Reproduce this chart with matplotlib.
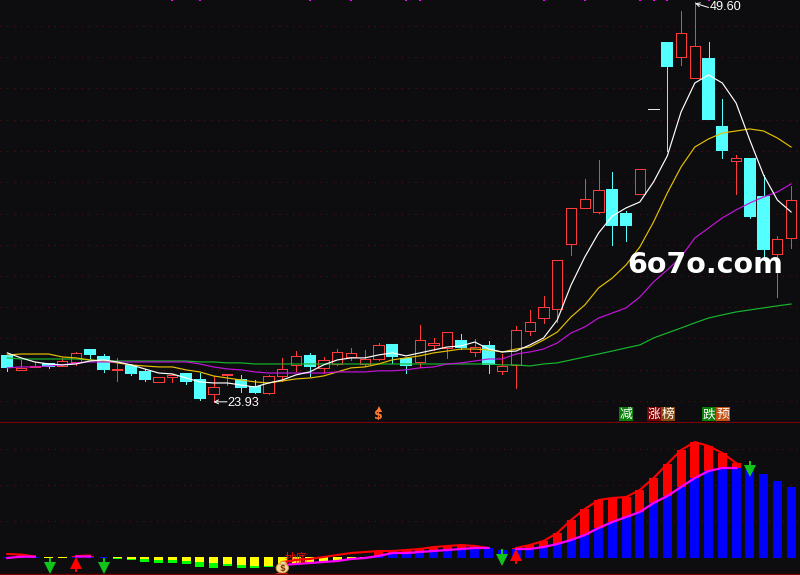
import numpy as np
import matplotlib
matplotlib.use("Agg")
import matplotlib.pyplot as plt
from matplotlib.patches import Ellipse, Rectangle

nan = np.nan
BG = "#0d0d10"
CJK = ["Noto Sans CJK SC", "DejaVu Sans"]

# ---- price candles -------------------------------------------------------
highs = [26.88,26.62,26.49,26.36,26.75,27.13,27.26,27.00,26.75,26.36,26.04,25.53,25.72,25.72,25.78,25.59,25.72,25.66,25.33,25.66,
         26.75,27.19,27.07,26.81,27.32,27.39,27.26,27.71,27.58,26.68,28.87,28.03,28.41,28.29,27.96,27.84,27.00,28.80,29.83,30.73,
         33.04,36.38,38.24,39.46,38.69,36.18,38.88,42.73,46.97,49.02,49.60,47.03,43.37,39.78,39.52,38.48,34.58,37.79]
lows = [25.92,25.98,26.17,26.11,26.23,26.30,26.75,25.85,25.27,25.66,25.27,25.21,25.21,25.08,24.05,23.93,25.01,24.56,24.50,24.43,
        25.27,25.92,25.59,25.78,26.30,26.62,26.23,26.62,26.43,25.78,26.17,27.26,26.75,27.32,26.88,25.78,25.72,24.82,28.22,28.99,
        29.06,33.36,36.38,36.05,34.00,34.26,37.28,42.73,40.04,45.56,44.72,42.09,39.59,37.28,35.73,33.04,30.66,33.81]
opens = [26.88,25.98,26.17,26.36,26.23,26.49,27.26,26.81,25.98,26.23,25.85,25.21,25.53,25.72,25.33,24.43,25.66,25.33,24.88,24.50,
         25.59,26.30,26.88,26.11,26.36,26.81,26.36,26.68,27.58,26.68,26.49,27.58,27.39,27.84,27.13,27.52,25.92,26.30,28.48,29.31,
         29.89,34.07,36.38,36.12,37.53,35.99,37.28,42.73,46.97,46.07,44.72,45.94,41.58,39.40,39.52,37.08,33.42,34.45]
closes = [26.17,26.11,26.23,26.23,26.55,27.07,27.00,26.04,26.04,25.78,25.40,25.53,25.66,25.27,24.18,24.88,25.72,24.88,24.56,25.59,
          26.04,26.88,26.23,26.62,27.13,27.07,26.68,27.58,26.88,26.30,27.90,27.71,28.41,27.45,27.45,26.36,26.23,28.54,29.06,30.02,
          33.04,36.38,36.95,37.53,35.29,35.29,38.88,42.73,45.49,47.61,46.78,42.09,40.10,39.59,35.86,33.74,34.39,36.89]

# ---- moving averages -----------------------------------------------------
ma_white = [27.07,26.75,26.49,26.36,26.30,26.36,26.55,26.62,26.49,26.30,26.04,25.78,25.72,25.46,25.21,25.14,25.14,25.01,24.88,25.14,
            25.33,25.66,25.85,26.30,26.62,26.75,26.75,26.94,27.07,26.88,27.07,27.26,27.45,27.52,27.77,27.32,27.13,27.19,27.58,28.03,
            29.19,31.43,33.23,34.77,35.86,36.38,36.76,38.05,39.72,42.54,44.40,44.92,44.40,43.12,40.74,38.49,36.89,36.12]
ma_yellow = [26.94,27.00,27.00,27.00,26.81,26.75,26.62,26.55,26.43,26.30,26.23,26.17,26.17,25.98,25.85,25.59,25.46,25.33,25.21,25.14,
             25.27,25.40,25.46,25.59,25.85,26.11,26.17,26.36,26.62,26.75,26.88,27.07,27.19,27.32,27.32,27.26,27.13,27.32,27.45,27.90,
             28.41,29.38,30.15,31.24,31.88,32.72,33.87,35.48,37.34,39.01,40.29,40.81,41.19,41.32,41.45,41.32,40.87,40.29]
ma_magenta = [26.11,26.17,26.17,26.23,26.30,26.43,26.49,26.49,26.49,26.49,26.49,26.49,26.49,26.49,26.36,26.17,26.04,25.98,25.85,25.78,
              25.78,25.78,25.78,25.78,25.85,25.85,25.85,25.92,25.92,25.98,26.11,26.17,26.36,26.43,26.55,26.68,26.68,27.00,27.13,27.32,
              27.71,28.35,28.74,29.31,29.63,29.96,30.66,31.63,32.40,33.23,34.45,35.09,35.74,36.25,36.70,37.08,37.40,37.92]
ma_green = [26.75,26.68,26.68,26.68,26.68,26.68,26.62,26.55,26.55,26.55,26.55,26.55,26.55,26.55,26.49,26.49,26.43,26.43,26.36,26.36,
            26.36,26.36,26.36,26.36,26.36,26.36,26.36,26.36,26.36,26.36,26.36,26.36,26.36,26.36,26.36,26.36,26.30,26.30,26.23,26.36,
            26.43,26.62,26.81,27.00,27.19,27.39,27.58,28.03,28.35,28.67,29.00,29.31,29.51,29.70,29.83,29.96,30.09,30.21]

price_gridlines = [48.06,46.07,44.08,42.03,40.04,38.05,35.99,34.00,32.01,30.02,28.03,25.98,23.99]
signal_candles = [12,14,22,25,29,30,39,42,46,47,48,51]
low_label, high_label = "23.93", "49.60"
low_idx, high_idx = 15, 50

# ---- lower indicator -----------------------------------------------------
bar_blue = [0.1,0.1,0.1,0,0,0.1,0.1,0.1,0,0,0,0,0,0,0,0,0,0,0,0,
            0,0,0,0,0,0,0,0.2,0.5,0.5,0.6,0.7,0.8,0.9,1.0,1.0,0.8,0.9,0.9,1.1,
            1.4,1.8,2.3,3.0,3.6,4.1,4.6,5.5,6.2,7.1,8.0,8.7,9.0,9.0,8.8,8.4,7.7,7.1]
line_magenta = [0.0,0.13,0.13,nan,nan,0.15,0.15,nan,nan,nan,nan,nan,nan,nan,nan,nan,nan,nan,nan,nan,
                -0.7,-0.6,-0.5,-0.4,-0.3,-0.1,0.0,0.2,0.5,0.5,0.6,0.7,0.8,0.9,1.0,1.0,nan,0.9,0.9,1.1,
                1.4,1.8,2.3,3.0,3.6,4.1,4.6,5.5,6.2,7.1,8.0,8.7,9.0,9.0,nan,nan,nan,nan]
line_red = [0.4,0.35,0.15,nan,nan,0.2,0.25,nan,nan,nan,nan,nan,nan,nan,nan,nan,nan,nan,nan,nan,
            -0.4,-0.2,-0.1,0.1,0.3,0.5,0.6,0.7,0.7,0.8,0.9,1.1,1.2,1.3,1.2,1.0,nan,1.0,1.3,1.7,
            2.5,3.8,4.9,5.8,6.0,6.1,6.8,8.0,9.4,10.8,11.6,11.2,10.5,9.5,nan,nan,nan,nan]
yellow_end = [nan,nan,nan,0,0,nan,nan,nan,0,-0.1,-0.1,-0.2,-0.2,-0.3,-0.4,-0.5,-0.6,-0.7,-0.8,-0.8,
              -0.8,-0.6,-0.5,-0.4,-0.3,-0.1,0.0] + [nan]*31
green_end = [nan]*8 + [-0.1,-0.2,-0.4,-0.5,-0.5,-0.6,-0.9,-1.0,-0.8,-1.0,-1.0,-0.9] + [nan]*38
yellow_top = 0.1
lower_gridlines = [10.9,7.3,3.7]
down_arrows = [(3.1,-0.1,-1.3),(7,-0.1,-1.3),(36,0.8,-0.5),(54,9.6,8.4)]
up_arrows = [(5,-1.3,-0.1),(37,-0.5,0.7)]
tags = [("减",45,"#0a7d0a"),("涨",47,"#7d0000"),("榜",48,"#86480f"),("跌",51,"#0a7d0a"),("预",52,"#c24e12")]

# ---- figure --------------------------------------------------------------
n = len(opens)
x = np.arange(n)
fig = plt.figure(figsize=(8, 5.75), dpi=100, facecolor=BG)
ax = fig.add_axes([0, 1-423/575, 1, 423/575], facecolor=BG)
lx = fig.add_axes([0, 0, 1, 152/575], facecolor=BG)
xlim = (-0.531, 57.65)
for a in (ax, lx):
    a.set_xlim(*xlim)
    a.set_xticks([]); a.set_yticks([])
    for s in a.spines.values():
        s.set_visible(False)
ax.set_ylim(22.57, 49.73)
lx.set_ylim(-1.7, 13.5)

for g in price_gridlines:
    ax.axhline(g, color="#6a0e0e", lw=0.7, ls=(0, (1, 6)), zorder=1)
for g in lower_gridlines:
    lx.axhline(g, color="#6a0e0e", lw=0.7, ls=(0, (1, 6)), zorder=1)

# candles
RED, CYAN = "#ff3c3c", "#54ffff"
W = 0.75
LW = 0.62
for i in range(n):
    o, c, h, l = opens[i], closes[i], highs[i], lows[i]
    top, bot = max(o, c), min(o, c)
    if o == c:
        ax.plot([i-0.38, i+0.38], [o, o], color="#e8e8e8", lw=LW, aa=False, zorder=3)
        continue
    col = RED if c > o else CYAN
    ax.vlines(i, top, h, color=col, lw=LW, zorder=2, antialiased=False)
    ax.vlines(i, l, bot, color=col, lw=LW, zorder=2, antialiased=False)
    if c > o:
        ax.add_patch(Rectangle((i-W/2, bot), W, top-bot, fc=BG, ec=col, lw=LW, zorder=3, antialiased=False))
    else:
        ax.add_patch(Rectangle((i-W/2, bot), W, top-bot, fc=col, ec=col, lw=0.3, zorder=3, antialiased=False))

# MAs
MLW = 0.85
ax.plot(x, ma_green, color="#16b82c", lw=MLW, zorder=4)
ax.plot(x, ma_yellow, color="#e6c000", lw=MLW, zorder=5)
ax.plot(x, ma_magenta, color="#c414dc", lw=MLW, zorder=6)
ax.plot(x, ma_white, color="#ffffff", lw=MLW, zorder=7)

# top signal ticks
ax.plot(signal_candles, [ax.get_ylim()[1]]*len(signal_candles), ls="", marker="s", ms=2.1,
        color="#ff00ff", mew=0, zorder=8, clip_on=True)

# high/low labels
ax.annotate("", xy=(low_idx, float(low_label)), xytext=(low_idx+0.98, float(low_label)),
            arrowprops=dict(arrowstyle="->", color="white", lw=0.7, mutation_scale=7, shrinkA=0, shrinkB=0), zorder=9)
ax.text(low_idx+1.03, float(low_label)-0.1, low_label, color="white", family="Liberation Sans",
        fontsize=9.2, va="center", ha="left", zorder=9)
ax.annotate("", xy=(high_idx+0.02, float(high_label)-0.08), xytext=(high_idx+1.0, float(high_label)-0.35),
            arrowprops=dict(arrowstyle="->", color="white", lw=0.7, mutation_scale=7, shrinkA=0, shrinkB=0), zorder=9)
ax.text(high_idx+1.08, float(high_label)-0.33, high_label, color="white", family="Liberation Sans",
        fontsize=9.2, va="center", ha="left", zorder=9)

# watermark
ax.text(0.9785, 0.3725, "6o7o.com", transform=ax.transAxes, color="white", family="DejaVu Sans",
        fontweight="bold", fontsize=20.5, ha="right", va="center", zorder=12)

# tags
tr = ax.get_xaxis_transform()
for txt, i, c in tags:
    ax.text(i+0.02, 0.0205, txt, transform=tr, color="white", family=CJK, fontsize=9.2, ha="center", va="center",
            bbox=dict(boxstyle="square,pad=0.05", fc=c, ec=c, lw=0), zorder=10)
ax.text(27, 0.018, "$", transform=tr, color="#ff7a30", fontsize=9, fontweight="bold", ha="center", va="center", zorder=10)
ax.plot([27], [0.034], transform=tr, marker="^", ms=4, color="#ff7a30", mew=0, zorder=10)

# separators
ax.axhline(22.57, color="#7a0000", lw=1.6, zorder=10)
lx.axhline(-1.6, color="#7a0000", lw=1.0, zorder=10)

# lower bars
BW = 0.66
blue = np.array(bar_blue); mag = np.array(line_magenta); red = np.array(line_red)
ye = np.array(yellow_end); ge = np.array(green_end)
mask = blue > 0
lx.bar(x[mask], blue[mask], width=BW, color="#0000ff", zorder=2, antialiased=False)
ymask = ~np.isnan(ye)
lx.bar(x[ymask], ye[ymask]-yellow_top, bottom=yellow_top, width=BW, color="#ffff00", zorder=2, antialiased=False)
gmask = ~np.isnan(ge)
lx.bar(x[gmask], ge[gmask]-ye[gmask], bottom=ye[gmask], width=BW, color="#00ff00", zorder=2, antialiased=False)
rmask = (~np.isnan(mag)) & (~np.isnan(red)) & (mag > 0)
lx.bar(x[rmask], (red-mag)[rmask], bottom=mag[rmask], width=BW, color="#ff0000", zorder=3, antialiased=False)
lx.plot(x, red, color="#ff0000", lw=1.5, zorder=4)
lx.plot(x, mag, color="#ff00ff", lw=1.6, zorder=5)

# arrows
for i, a, b in down_arrows:
    lx.plot([i, i], [a, b+0.4], color="#10c41c", lw=1.4, zorder=8, aa=False)
    lx.plot([i], [b+0.35], marker="v", ms=8.5, color="#10c41c", mew=0, zorder=8)
for i, a, b in up_arrows:
    lx.plot([i, i], [a, b-0.4], color="#ff0000", lw=1.4, zorder=8, aa=False)
    lx.plot([i], [b-0.35], marker="^", ms=8.5, color="#ff0000", mew=0, zorder=8)

# bottom-signal text and bag
lx.text(20.2, -0.05, "抄底", color="#ff1010", family=CJK, fontsize=8.3, ha="left", va="center", zorder=9)
lx.add_patch(Ellipse((20.0, -1.0), 0.9, 1.0, fc="#f2d98f", ec="#c89a50", lw=0.6, zorder=9))
lx.add_patch(Rectangle((19.82, -0.55), 0.36, 0.25, fc="#f2d98f", ec="#c89a50", lw=0.4, zorder=9))
lx.plot([19.65, 20.35], [-1.55, -1.55], color="#e02000", lw=1.4, zorder=9)
lx.text(20.0, -1.02, "$", color="#903010", fontsize=6, fontweight="bold", ha="center", va="center", zorder=10)

fig.savefig("out.png", dpi=100, facecolor=BG)
